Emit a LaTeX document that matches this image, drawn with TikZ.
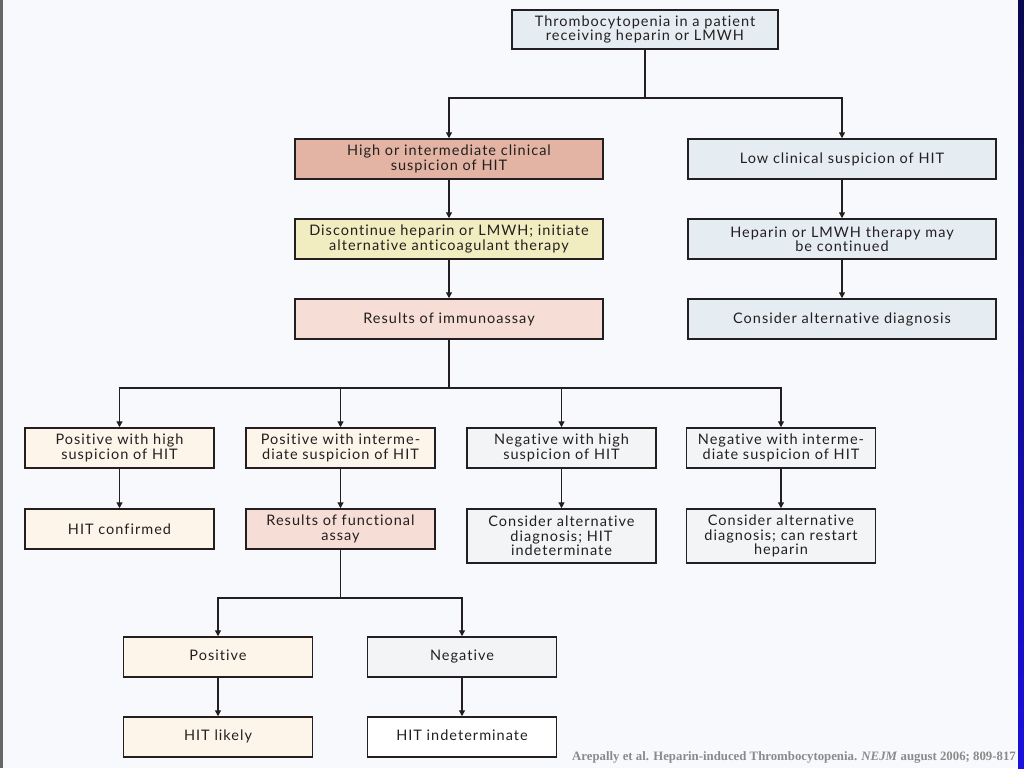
\documentclass[tikz,border=0pt]{standalone}
\usepackage{fontspec}
\setmainfont{Lato}[LetterSpace=7,Ligatures={NoCommon,NoRare}]
\newfontfamily\capfont{Liberation Serif}
\usetikzlibrary{arrows.meta}
\definecolor{bg}{HTML}{F8F9FC}
\definecolor{ink}{HTML}{231F20}
\definecolor{bluegray}{HTML}{E6EDF2}
\definecolor{salmon}{HTML}{E3B4A3}
\definecolor{paleyellow}{HTML}{F1EDC0}
\definecolor{lightpink}{HTML}{F6DDD5}
\definecolor{cream}{HTML}{FDF5EA}
\definecolor{lightgray}{HTML}{F3F4F6}
\definecolor{capgray}{HTML}{8A8A8A}
\tikzset{
  box/.style={draw=ink, line width=1.5pt, text=ink, align=center, inner sep=1pt,
    font=\fontsize{14.5}{14.4}\selectfont, minimum height=40pt},
  wide/.style={box, minimum width=308pt},
  small/.style={box, minimum width=189pt},
  conn/.style={draw=ink, line width=1.3pt},
  arr/.style={conn, -{Triangle[width=6pt,length=6pt]}}
}
\begin{document}
\begin{tikzpicture}[x=1pt,y=-1pt]
\useasboundingbox (0,0) rectangle (1024,768);
\fill[bg] (0,0) rectangle (1024,768);
\fill[gray!80!black] (0,0) rectangle (2.5,768);
\shade[top color={rgb,255:red,10;green,8;blue,80}, bottom color={rgb,255:red,26;green,16;blue,224}] (1018,0) rectangle (1024,768);

\node[box, fill=bluegray, minimum width=266pt, minimum height=39pt] (top) at (645,29.5) {Thrombocytopenia in a patient\\receiving heparin or LMWH};

\node[wide, fill=salmon] (high) at (449,159) {High or intermediate clinical\\suspicion of HIT};
\node[wide, fill=bluegray] (low) at (842,159) {Low clinical suspicion of HIT};
\node[wide, fill=paleyellow] (disc) at (449,239) {Discontinue heparin or LMWH; initiate\\alternative anticoagulant therapy};
\node[wide, fill=bluegray] (cont) at (842,239) {Heparin or LMWH therapy may\\be continued};
\node[wide, fill=lightpink] (immu) at (449,319) {Results of immunoassay};
\node[wide, fill=bluegray] (altd) at (842,319) {Consider alternative diagnosis};

\node[small, fill=cream] (poshi) at (119.5,448) {Positive with high\\suspicion of HIT};
\node[small, fill=cream] (posint) at (340.5,448) {Positive with interme-\\diate suspicion of HIT};
\node[small, fill=lightgray] (neghi) at (561.5,448) {Negative with high\\suspicion of HIT};
\node[small, fill=lightgray] (negint) at (781,448) {Negative with interme-\\diate suspicion of HIT};

\node[small, fill=cream] (conf) at (119.5,529) {HIT confirmed};
\node[small, fill=lightpink] (func) at (340.5,529) {Results of functional\\assay};
\node[small, fill=lightgray, minimum height=54pt] (alt1) at (561.5,536) {Consider alternative\\diagnosis; HIT\\indeterminate};
\node[small, fill=lightgray, minimum height=54pt] (alt2) at (781,536) {Consider alternative\\diagnosis; can restart\\heparin};

\node[small, fill=cream] (pos) at (218,657) {Positive\strut};
\node[small, fill=lightgray] (neg) at (462,657) {Negative\strut};
\node[small, fill=cream] (likely) at (218,737) {HIT likely\strut};
\node[small, fill=white] (indet) at (462,737) {HIT indeterminate\strut};

\coordinate (j1) at (645,98);
\coordinate (j2) at (449,388);
\coordinate (j3) at (340.5,598);

\draw[conn] (top.south) -- (j1);
\draw[arr] (j1) -| (high.north);
\draw[arr] (j1) -| (low.north);
\draw[arr] (high) -- (disc);
\draw[arr] (disc) -- (immu);
\draw[arr] (low) -- (cont);
\draw[arr] (cont) -- (altd);

\draw[conn] (immu.south) -- (j2);
\draw[arr] (j2) -| (poshi.north);
\draw[arr] (j2) -| (posint.north);
\draw[arr] (j2) -| (neghi.north);
\draw[arr] (j2) -| (negint.north);

\draw[arr] (poshi) -- (conf);
\draw[arr] (posint) -- (func);
\draw[arr] (neghi) -- (alt1);
\draw[arr] (negint) -- (alt2);

\draw[conn] (func.south) -- (j3);
\draw[arr] (j3) -| (pos.north);
\draw[arr] (j3) -| (neg.north);
\draw[arr] (pos) -- (likely);
\draw[arr] (neg) -- (indet);

\node[anchor=base east, inner sep=0pt, text=capgray, font=\capfont\bfseries\fontsize{12.8}{13}\selectfont] (cap) at (1016,760) {Arepally et al. Heparin-induced Thrombocytopenia. \textit{NEJM} august 2006; 809-817};
\end{tikzpicture}
\end{document}
